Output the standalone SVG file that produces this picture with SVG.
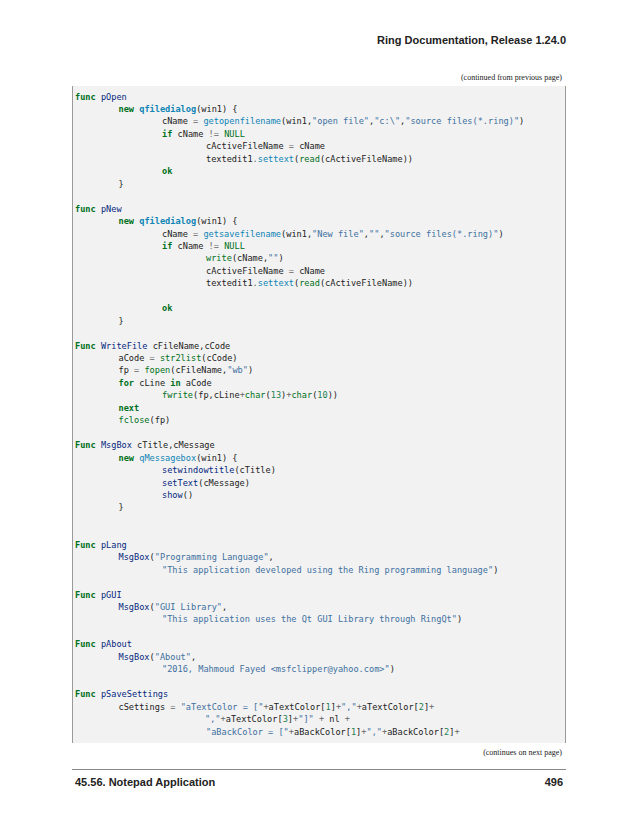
<svg xmlns="http://www.w3.org/2000/svg" width="638" height="825" viewBox="0 0 638 825">
<style>
.hd{font-family:"Liberation Sans",Arial,sans-serif;font-weight:bold;font-size:11px;fill:#222}
.note{font-family:"Liberation Serif",serif;font-size:8px;fill:#222}
.code{font-family:"DejaVu Sans Mono",monospace;font-size:8.6px;fill:#222;white-space:pre}
.k{fill:#007020;font-weight:bold}
.n{fill:#06287e}
.c{fill:#0e84b5;font-weight:bold}
.t{fill:#0e84b5}
.b{fill:#007020}
.s{fill:#4070a0}
.o{fill:#666666}
.m{fill:#208050}
</style>
<rect width="638" height="825" fill="#ffffff"/>
<g id="header"><text class="hd" x="566" y="44" text-anchor="end">Ring Documentation, Release 1.24.0</text></g>
<text class="note" x="562" y="80" text-anchor="end">(continued from previous page)</text>
<g id="codebox">
<rect x="72" y="86" width="494" height="657" fill="#f2f2f2"/>
<line x1="72.5" y1="86" x2="72.5" y2="743" stroke="#999" stroke-width="1"/>
<line x1="565.5" y1="86" x2="565.5" y2="743" stroke="#999" stroke-width="1"/>
</g>
<g id="code" class="code" xml:space="preserve">
<text x="75" y="99.5"><tspan class="k">func</tspan> <tspan class="n">pOpen</tspan></text>
<text x="118.5" y="112"><tspan class="k">new</tspan> <tspan class="c">qfiledialog</tspan>(win1) {</text>
<text x="162" y="124.4">cName <tspan class="o">=</tspan> <tspan class="t">getopenfilename</tspan>(win1,<tspan class="s">"open file"</tspan>,<tspan class="s">"c:\"</tspan>,<tspan class="s">"source files(*.ring)"</tspan>)</text>
<text x="162" y="136.9"><tspan class="k">if</tspan> cName <tspan class="o">!=</tspan> <tspan class="b">NULL</tspan></text>
<text x="206" y="149.3">cActiveFileName <tspan class="o">=</tspan> cName</text>
<text x="206" y="161.8">textedit1<tspan class="o">.</tspan><tspan class="t">settext</tspan>(<tspan class="b">read</tspan>(cActiveFileName))</text>
<text x="162" y="174.2"><tspan class="k">ok</tspan></text>
<text x="118.5" y="186.7">}</text>
<text x="75" y="211.6"><tspan class="k">func</tspan> <tspan class="n">pNew</tspan></text>
<text x="118.5" y="224"><tspan class="k">new</tspan> <tspan class="c">qfiledialog</tspan>(win1) {</text>
<text x="162" y="236.5">cName <tspan class="o">=</tspan> <tspan class="t">getsavefilename</tspan>(win1,<tspan class="s">"New file"</tspan>,<tspan class="s">""</tspan>,<tspan class="s">"source files(*.ring)"</tspan>)</text>
<text x="162" y="248.9"><tspan class="k">if</tspan> cName <tspan class="o">!=</tspan> <tspan class="b">NULL</tspan></text>
<text x="206" y="261.4"><tspan class="b">write</tspan>(cName,<tspan class="s">""</tspan>)</text>
<text x="206" y="273.8">cActiveFileName <tspan class="o">=</tspan> cName</text>
<text x="206" y="286.3">textedit1<tspan class="o">.</tspan><tspan class="t">settext</tspan>(<tspan class="b">read</tspan>(cActiveFileName))</text>
<text x="162" y="311.2"><tspan class="k">ok</tspan></text>
<text x="118.5" y="323.6">}</text>
<text x="75" y="348.5"><tspan class="k">Func</tspan> <tspan class="n">WriteFile</tspan> cFileName,cCode</text>
<text x="118.5" y="361">aCode <tspan class="o">=</tspan> <tspan class="b">str2list</tspan>(cCode)</text>
<text x="118.5" y="373.4">fp <tspan class="o">=</tspan> <tspan class="b">fopen</tspan>(cFileName,<tspan class="s">"wb"</tspan>)</text>
<text x="118.5" y="385.9"><tspan class="k">for</tspan> cLine <tspan class="k">in</tspan> aCode</text>
<text x="162" y="398.3"><tspan class="b">fwrite</tspan>(fp,cLine<tspan class="o">+</tspan><tspan class="b">char</tspan>(<tspan class="m">13</tspan>)<tspan class="o">+</tspan><tspan class="b">char</tspan>(<tspan class="m">10</tspan>))</text>
<text x="118.5" y="410.8"><tspan class="k">next</tspan></text>
<text x="118.5" y="423.2"><tspan class="b">fclose</tspan>(fp)</text>
<text x="75" y="448.1"><tspan class="k">Func</tspan> <tspan class="n">MsgBox</tspan> cTitle,cMessage</text>
<text x="118.5" y="460.6"><tspan class="k">new</tspan> <tspan class="t">qMessagebox</tspan>(win1) {</text>
<text x="162" y="473"><tspan class="n">setwindowtitle</tspan>(cTitle)</text>
<text x="162" y="485.5"><tspan class="n">setText</tspan>(cMessage)</text>
<text x="162" y="497.9"><tspan class="n">show</tspan>()</text>
<text x="118.5" y="510.4">}</text>
<text x="75" y="547.7"><tspan class="k">Func</tspan> <tspan class="n">pLang</tspan></text>
<text x="118.5" y="560.2"><tspan class="n">MsgBox</tspan>(<tspan class="s">"Programming Language"</tspan>,</text>
<text x="162" y="572.6"><tspan class="s">"This application developed using the Ring programming language"</tspan>)</text>
<text x="75" y="597.5"><tspan class="k">Func</tspan> <tspan class="n">pGUI</tspan></text>
<text x="118.5" y="610"><tspan class="n">MsgBox</tspan>(<tspan class="s">"GUI Library"</tspan>,</text>
<text x="162" y="622.4"><tspan class="s">"This application uses the Qt GUI Library through RingQt"</tspan>)</text>
<text x="75" y="647.3"><tspan class="k">Func</tspan> <tspan class="n">pAbout</tspan></text>
<text x="118.5" y="659.8"><tspan class="n">MsgBox</tspan>(<tspan class="s">"About"</tspan>,</text>
<text x="162" y="672.2"><tspan class="s">"2016, Mahmoud Fayed &lt;msfclipper@yahoo.com&gt;"</tspan>)</text>
<text x="75" y="697.1"><tspan class="k">Func</tspan> <tspan class="n">pSaveSettings</tspan></text>
<text x="118.5" y="709.6">cSettings <tspan class="o">=</tspan> <tspan class="s">"aTextColor = ["</tspan><tspan class="o">+</tspan>aTextColor[<tspan class="m">1</tspan>]<tspan class="o">+</tspan><tspan class="s">","</tspan><tspan class="o">+</tspan>aTextColor[<tspan class="m">2</tspan>]<tspan class="o">+</tspan></text>
<text x="205" y="722"><tspan class="s">","</tspan><tspan class="o">+</tspan>aTextColor[<tspan class="m">3</tspan>]<tspan class="o">+</tspan><tspan class="s">"]"</tspan> <tspan class="o">+</tspan> nl <tspan class="o">+</tspan></text>
<text x="206" y="734.5"><tspan class="s">"aBackColor = ["</tspan><tspan class="o">+</tspan>aBackColor[<tspan class="m">1</tspan>]<tspan class="o">+</tspan><tspan class="s">","</tspan><tspan class="o">+</tspan>aBackColor[<tspan class="m">2</tspan>]<tspan class="o">+</tspan></text>
</g>
<text class="note" x="562" y="755" text-anchor="end">(continues on next page)</text>
<g id="footer">
<line x1="72" y1="769.5" x2="566" y2="769.5" stroke="#888" stroke-width="1"/>
<text class="hd" x="75" y="786">45.56. Notepad Application</text>
<text class="hd" x="563" y="786" text-anchor="end">496</text>
</g>
</svg>
